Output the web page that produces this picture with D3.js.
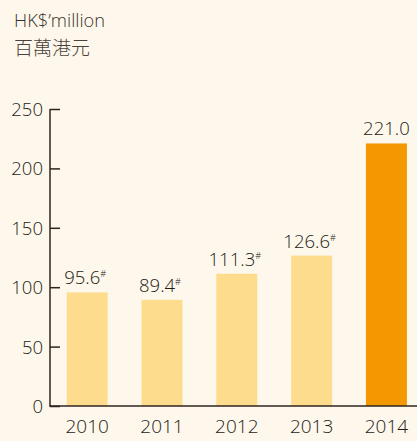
<!DOCTYPE html>
<html>
<head>
<meta charset="utf-8">
<script src="https://cdn.jsdelivr.net/npm/d3@7"></script>
<style>
  body { margin: 0; background: #fef8ec; }
  svg { display: block; }
  text { font-family: "Open Sans", "Noto Sans", sans-serif; font-weight: 300; fill: #241b16; }
</style>
</head>
<body>
<div id="graphic"></div>
<script>
// DATA
var years = ["2010", "2011", "2012", "2013", "2014"];
var values = [95.6, 89.4, 111.3, 126.6, 221.0];
var notes = ["#", "#", "#", "#", ""];
var yTicks = [0, 50, 100, 150, 200, 250];

var W = 417, H = 441;

var svg = d3.select("#graphic").append("svg")
    .attr("width", W)
    .attr("height", H);

// unit title
svg.append("text")
    .attr("x", 14).attr("y", 27)
    .style("font-size", "18.3px")
    .style("fill", "#3a312b")
    .text("HK$\u2019million");
svg.append("text")
    .attr("x", 14).attr("y", 55)
    .style("font-family", "'Noto Sans CJK TC', 'Noto Sans CJK SC', sans-serif")
    .style("font-size", "19px")
    .style("fill", "#4a413b")
    .text("百萬港元");

var xScale = d3.scaleBand()
    .domain(years)
    .range([50, 423.6])
    .paddingInner(0.452)
    .paddingOuter(0.223);

var yScale = d3.scaleLinear()
    .domain([0, 250])
    .range([406, 109]);

// bars
svg.selectAll("rect.bar")
    .data(values)
    .enter()
    .append("rect")
    .attr("class", "bar")
    .attr("x", (d, i) => xScale(years[i]))
    .attr("y", d => yScale(d))
    .attr("width", xScale.bandwidth())
    .attr("height", d => yScale(0) - yScale(d))
    .attr("fill", (d, i) => i == years.length - 1 ? "#f39800" : "#fddc8d");

// value labels
var lbl = svg.selectAll("text.val")
    .data(values)
    .enter()
    .append("text")
    .attr("class", "val")
    .attr("x", (d, i) => xScale(years[i]) + xScale.bandwidth() / 2 + (notes[i] ? -2 : 0))
    .attr("y", d => yScale(d) - 8)
    .attr("text-anchor", "middle")
    .style("font-size", "18.5px");
lbl.append("tspan").text(d => d.toFixed(1));
lbl.append("tspan")
    .attr("dy", -7)
    .style("font-size", "9px")
    .text((d, i) => notes[i]);

// y axis
var yAxis = d3.axisRight(yScale)
    .tickValues(yTicks)
    .tickSize(10)
    .tickFormat(d3.format("d"));

var gy = svg.append("g")
    .attr("transform", "translate(50,0)")
    .call(yAxis);
gy.select(".domain").remove();
gy.selectAll("line").attr("stroke", "#2e2520").attr("stroke-width", 1.5);
gy.selectAll("text")
    .attr("x", -7)
    .attr("dy", "0.35em")
    .attr("text-anchor", "end")
    .style("font-size", "18.5px");

svg.append("line")
    .attr("x1", 50).attr("x2", 50)
    .attr("y1", yScale(250)).attr("y2", yScale(0))
    .attr("stroke", "#2e2520").attr("stroke-width", 1.5);

// x axis
var xAxis = d3.axisBottom(xScale).tickSize(0).tickPadding(14);
var gx = svg.append("g")
    .attr("transform", "translate(0," + yScale(0) + ")")
    .call(xAxis);
gx.select(".domain").remove();
gx.selectAll("text").style("font-size", "19px");

svg.append("line")
    .attr("x1", 49.25).attr("x2", W)
    .attr("y1", yScale(0)).attr("y2", yScale(0))
    .attr("stroke", "#2e2520").attr("stroke-width", 1.5);
</script>
</body>
</html>
